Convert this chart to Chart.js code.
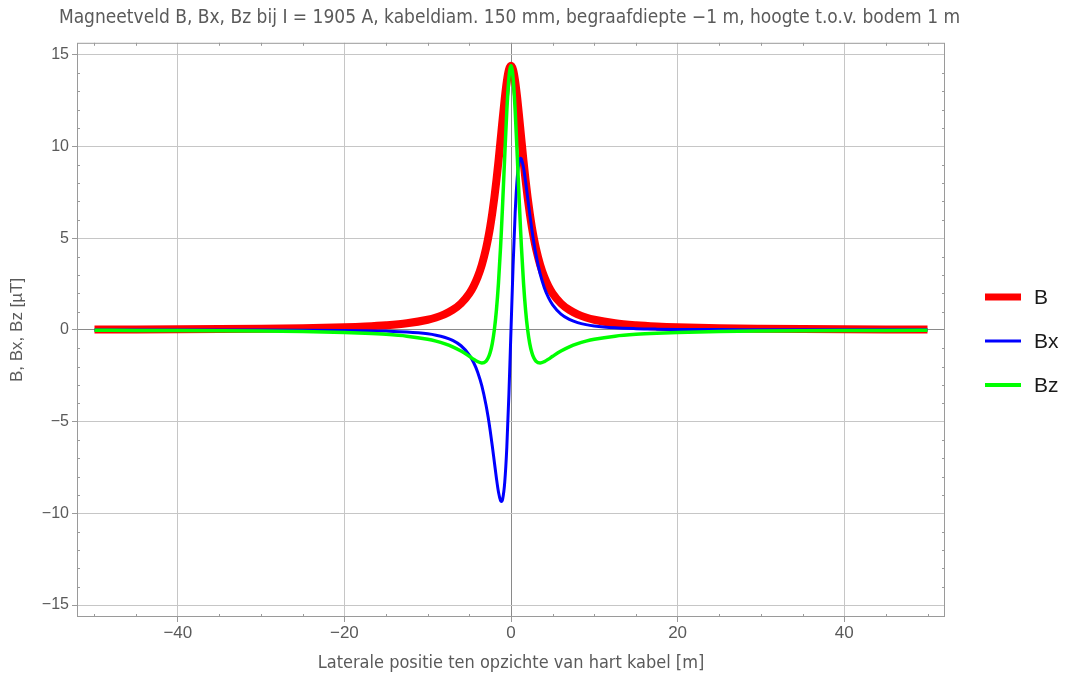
<!DOCTYPE html>
<html lang="nl">
<head>
    <meta charset="UTF-8">
    <title>Magneetveld B, Bx, Bz</title>
    <script src="https://cdn.jsdelivr.net/npm/chart.js@4.4.0/dist/chart.umd.min.js"></script>
    <style>
        body {
            margin: 0;
            background: #ffffff;
        }
        .wrap {
            width: 1067px;
            height: 677px;
            position: relative;
        }
    </style>
</head>
<body>
<div class="wrap">
    <canvas id="fieldChart"></canvas>
</div>
<script>
    // lateral position [m]
    const positions = [-50, -45, -40, -35, -30, -25, -20, -17.5, -15, -12.5, -10, -9, -8, -7, -6, -5, -4.5, -4, -3.5, -3, -2.75, -2.5, -2.25, -2, -1.75, -1.5, -1.25, -1.15, -1, -0.75, -0.5, -0.25,
        0, 0.25, 0.5, 0.75, 1, 1.15, 1.25, 1.5, 1.75, 2, 2.25, 2.5, 2.75, 3, 3.5, 4, 4.5, 5, 6, 7, 8, 9, 10, 12.5, 15, 17.5, 20, 25, 30, 35, 40, 45, 50];

    // field values [uT]
    const fieldB = [0.023, 0.028, 0.036, 0.047, 0.064, 0.092, 0.143, 0.186, 0.252, 0.359, 0.554, 0.678, 0.847, 1.087, 1.44, 1.986, 2.375, 2.88, 3.545, 4.431, 4.982, 5.62, 6.356, 7.2, 8.156, 9.216, 10.355, 10.822, 11.52, 12.625, 13.553, 14.178,
        14.4, 14.178, 13.553, 12.625, 11.52, 10.822, 10.355, 9.216, 8.156, 7.2, 6.356, 5.62, 4.982, 4.431, 3.545, 2.88, 2.375, 1.986, 1.44, 1.087, 0.847, 0.678, 0.554, 0.359, 0.252, 0.186, 0.143, 0.092, 0.064, 0.047, 0.036, 0.028, 0.023];
    const fieldBx = [-0.002, -0.003, -0.004, -0.005, -0.008, -0.015, -0.028, -0.042, -0.066, -0.112, -0.213, -0.287, -0.399, -0.574, -0.864, -1.37, -1.763, -2.304, -3.054, -4.09, -4.739, -5.482, -6.312, -7.2, -8.084, -8.847, -9.308, -9.353, -9.216, -8.301, -6.378, -3.49,
        0, 3.49, 6.378, 8.301, 9.216, 9.353, 9.308, 8.847, 8.084, 7.2, 6.312, 5.482, 4.739, 4.09, 3.054, 2.304, 1.763, 1.37, 0.864, 0.574, 0.399, 0.287, 0.213, 0.112, 0.066, 0.042, 0.028, 0.015, 0.008, 0.005, 0.004, 0.003, 0.002];
    const fieldBz = [-0.023, -0.028, -0.036, -0.047, -0.063, -0.09, -0.14, -0.181, -0.243, -0.341, -0.511, -0.614, -0.747, -0.923, -1.152, -1.438, -1.592, -1.728, -1.8, -1.704, -1.535, -1.234, -0.745, 0, 1.083, 2.58, 4.538, 5.444, 6.912, 9.512, 11.958, 13.742,
        14.4, 13.742, 11.958, 9.512, 6.912, 5.444, 4.538, 2.58, 1.083, 0, -0.745, -1.234, -1.535, -1.704, -1.8, -1.728, -1.592, -1.438, -1.152, -0.923, -0.747, -0.614, -0.511, -0.341, -0.243, -0.181, -0.14, -0.09, -0.063, -0.047, -0.036, -0.028, -0.023];

    const xTicks = [-40, -20, 0, 20, 40];
    const yTicks = [-15, -10, -5, 0, 5, 10, 15];
    const seriesNames = ['B', 'Bx', 'Bz'];
    const seriesColors = ['#ff0000', '#0000ff', '#00ff00'];
    const seriesWidths = [8, 3, 3.5];

    const narrow = "'Liberation Sans Narrow', 'Arial Narrow', 'DejaVu Sans Condensed', sans-serif";
    const regular = "'Liberation Sans', Arial, sans-serif";

    function toPoints(values) {
        return values.map((v, i) => ({ x: positions[i], y: v }));
    }

    // frame, minor ticks and the legend on the right
    const framePlugin = {
        id: 'framePlugin',
        beforeDatasetsDraw(chart) {
            const { ctx, chartArea: a } = chart;
            const xs = chart.scales.x, ys = chart.scales.y;
            ctx.save();
            ctx.strokeStyle = '#9a9a9a';
            ctx.lineWidth = 1;
            ctx.strokeRect(a.left + 0.5, a.top + 0.5, a.right - a.left - 1, a.bottom - a.top - 1);
            ctx.beginPath();
            for (let v = -50; v <= 50; v += 5) {
                if (v % 20 === 0) continue;
                const px = Math.round(xs.getPixelForValue(v)) + 0.5;
                ctx.moveTo(px, a.bottom);
                ctx.lineTo(px, a.bottom - 3);
                ctx.moveTo(px, a.top);
                ctx.lineTo(px, a.top + 3);
            }
            for (let v = -15; v <= 15; v += 1) {
                if (v % 5 === 0) continue;
                const py = Math.round(ys.getPixelForValue(v)) + 0.5;
                ctx.moveTo(a.left, py);
                ctx.lineTo(a.left + 3, py);
                ctx.moveTo(a.right, py);
                ctx.lineTo(a.right - 3, py);
            }
            ctx.stroke();
            ctx.restore();
        },
        afterDraw(chart) {
            const { ctx } = chart;
            ctx.save();
            ctx.font = '21px ' + regular;
            ctx.textBaseline = 'middle';
            ctx.textAlign = 'left';
            seriesNames.forEach((name, i) => {
                const y = 297 + i * 44;
                ctx.strokeStyle = seriesColors[i];
                ctx.lineWidth = i === 0 ? 7 : (i === 1 ? 3 : 4);
                ctx.beginPath();
                ctx.moveTo(985, y);
                ctx.lineTo(1021, y);
                ctx.stroke();
                ctx.fillStyle = '#1a1a1a';
                ctx.fillText(name, 1034, y + 1);
            });
            ctx.restore();
        }
    };

    const ctx = document.getElementById('fieldChart').getContext('2d');
    const fieldChart = new Chart(ctx, {
        type: 'line',
        data: {
            datasets: seriesNames.map((name, i) => ({
                label: name,
                data: toPoints([fieldB, fieldBx, fieldBz][i]),
                borderColor: seriesColors[i],
                backgroundColor: seriesColors[i],
                borderWidth: seriesWidths[i],
                pointRadius: 0,
                cubicInterpolationMode: 'monotone',
                order: 3 - i
            }))
        },
        options: {
            responsive: true,
            maintainAspectRatio: false,
            animation: false,
            layout: {
                padding: { left: 0, right: 48, top: 0, bottom: 0 }
            },
            plugins: {
                legend: { display: false },
                tooltip: { enabled: false },
                title: {
                    display: true,
                    text: 'Magneetveld B, Bx, Bz bij I = 1905 A, kabeldiam. 150 mm, begraafdiepte \u22121 m, hoogte t.o.v. bodem 1 m',
                    color: '#5a5a5a',
                    font: { family: narrow, size: 19, weight: 'normal' },
                    padding: { top: 7, bottom: 13 }
                }
            },
            scales: {
                x: {
                    type: 'linear',
                    min: -52.1,
                    max: 52.1,
                    afterBuildTicks: (scale) => { scale.ticks = xTicks.map(v => ({ value: v })); },
                    afterFit: (scale) => { scale.height = 60; },
                    grid: {
                        color: (c) => (c.tick && c.tick.value === 0 ? '#8a8a8a' : '#c6c6c6'),
                        lineWidth: 1,
                        drawTicks: true,
                        tickLength: 5,
                        tickColor: '#9a9a9a'
                    },
                    border: { display: false },
                    ticks: {
                        color: '#5a5a5a',
                        font: { family: regular, size: 17 },
                        padding: 1,
                        maxRotation: 0,
                        callback: (v) => String(v).replace('-', '\u2212')
                    },
                    title: {
                        display: true,
                        text: 'Laterale positie ten opzichte van hart kabel [m]',
                        color: '#5a5a5a',
                        font: { family: narrow, size: 18 },
                        padding: { top: 4, bottom: 3 }
                    }
                },
                y: {
                    type: 'linear',
                    min: -15.65,
                    max: 15.65,
                    afterBuildTicks: (scale) => { scale.ticks = yTicks.map(v => ({ value: v })); },
                    afterFit: (scale) => { scale.width = 77; },
                    grid: {
                        color: (c) => (c.tick && c.tick.value === 0 ? '#8a8a8a' : '#c6c6c6'),
                        lineWidth: 1,
                        drawTicks: true,
                        tickLength: 5,
                        tickColor: '#9a9a9a'
                    },
                    border: { display: false },
                    ticks: {
                        color: '#5a5a5a',
                        font: { family: regular, size: 16 },
                        padding: 3,
                        callback: (v) => String(v).replace('-', '\u2212')
                    },
                    title: {
                        display: true,
                        text: 'B, Bx, Bz [\u00b5T]',
                        color: '#5a5a5a',
                        font: { family: regular, size: 17 },
                        padding: { top: 7, bottom: 2 }
                    }
                },
                // empty right-hand axis that keeps room for the legend
                ySpace: {
                    type: 'linear',
                    position: 'right',
                    display: true,
                    grid: { display: false },
                    border: { display: false },
                    ticks: { display: false },
                    afterFit: (scale) => { scale.width = 74; }
                }
            }
        },
        plugins: [framePlugin]
    });
</script>
</body>
</html>
